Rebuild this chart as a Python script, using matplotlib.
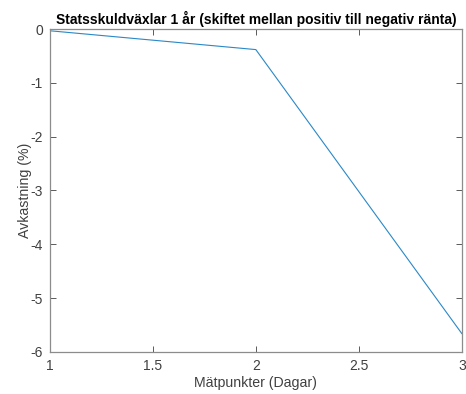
import matplotlib
matplotlib.use("Agg")
import matplotlib.pyplot as plt

# mätpunkter och avkastning
dagar = [1, 2, 3]
avkastning = [-0.03, -0.38, -5.66]

x_ticks = [1, 1.5, 2, 2.5, 3]
y_ticks = [0, -1, -2, -3, -4, -5, -6]

plt.rcParams['font.family'] = ['Liberation Sans', 'DejaVu Sans']
plt.rcParams['axes.unicode_minus'] = False
axcol = '#404040'

fig = plt.figure(figsize=(4.66, 3.94), dpi=100)
ax = fig.add_axes([0.107, 0.107, 0.884, 0.819])

ax.plot(dagar, avkastning, color='#2a88c8', linewidth=0.8)

ax.set_xlim(1, 3)
ax.set_ylim(-6, 0)
ax.set_xticks(x_ticks)
ax.set_xticklabels(['1', '1.5', '2', '2.5', '3'])
ax.set_yticks(y_ticks)
ax.tick_params(direction='in', length=4, width=0.6, colors=axcol,
               labelsize=10, pad=5, top=True, right=True,
               labeltop=False, labelright=False)
for s in ax.spines.values():
    s.set_color('#8c8c8c')
    s.set_linewidth(0.9)

ax.set_title('Statsskuldväxlar 1 år (skiftet mellan positiv till negativ ränta)',
             fontsize=10, fontweight='bold', pad=4)
ax.set_xlabel('Mätpunkter (Dagar)', fontsize=10.2, color=axcol, labelpad=2)
ax.set_ylabel('Avkastning (%)', fontsize=10.2, color=axcol, labelpad=-1)

fig.savefig('out.png', dpi=100)
